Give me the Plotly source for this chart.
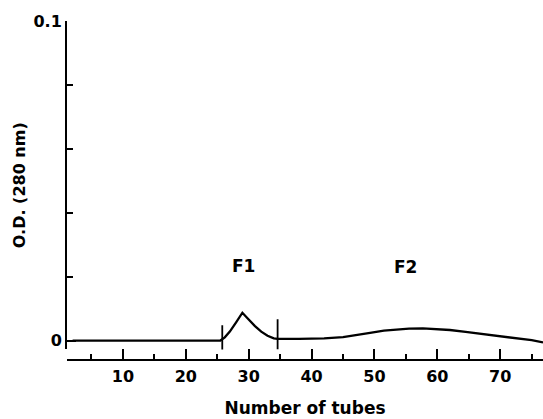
import plotly.graph_objects as go

# Elution profile (O.D. 280 nm vs tube number)
tubes = [2, 10, 20, 25.5, 26.2, 27.0, 28.0, 29.0, 30.0, 31.0, 32.0, 33.0, 34.0, 34.6,
         38, 42, 45, 47, 49.3, 51.5, 53.5, 55.5, 57.7, 60, 62, 64.5, 67.3, 70, 72.6, 75, 76.8]
od = [0.0, 0.0, 0.0, 0.0, 0.0010, 0.0028, 0.0057, 0.0087, 0.0066, 0.0045, 0.0028, 0.0015, 0.0007, 0.0005,
      0.0005, 0.0007, 0.0011, 0.0016, 0.0024, 0.0031, 0.0035, 0.0037, 0.0038, 0.0036, 0.0033, 0.0027, 0.0020, 0.0013, 0.0007, 0.0001, -0.0006]

# Fraction boundaries (tube numbers) and their mark extents
boundary_tubes = [25.8, 34.6]
boundary_low = [-0.0030, -0.0028]
boundary_high = [0.0048, 0.0067]

# Fraction labels
frac_names = ["F1", "F2"]
frac_x = [29.1, 55.0]
frac_y = [0.0232, 0.0231]

# Axis ticks
x_tickvals = [1.15, 10, 20, 30, 40, 50, 60, 70]
x_ticktext = ["", "10", "20", "30", "40", "50", "60", "70"]
x_minor = [5, 15, 25, 35, 45, 55, 65, 75]
y_tickvals = [0, 0.1]
y_ticktext = ["0", "0.1"]
y_minor = [0.02, 0.04, 0.06, 0.08]

FONT = "DejaVu Sans"

fig = go.Figure()
fig.add_trace(go.Scatter(x=tubes, y=od, mode="lines",
                         line=dict(color="black", width=2.3), showlegend=False))
for bx, lo, hi in zip(boundary_tubes, boundary_low, boundary_high):
    fig.add_trace(go.Scatter(x=[bx, bx], y=[lo, hi], mode="lines",
                             line=dict(color="black", width=1.8), showlegend=False))
for name, fx, fy in zip(frac_names, frac_x, frac_y):
    fig.add_annotation(x=fx, y=fy, text=name, showarrow=False,
                       font=dict(family=FONT, size=17, color="black", weight="bold"))

fig.update_layout(
    width=543, height=419,
    margin=dict(l=67, r=0, t=21, b=59),
    paper_bgcolor="white", plot_bgcolor="white",
    font=dict(family=FONT, color="black"),
    xaxis=dict(
        range=[1.11, 76.8], anchor="free", position=0, automargin=False,
        showgrid=False, zeroline=False,
        showline=True, linecolor="black", linewidth=2,
        tickmode="array", tickvals=x_tickvals, ticktext=x_ticktext,
        ticks="inside", ticklen=10, tickwidth=2, tickcolor="black",
        ticklabelstandoff=2,
        tickfont=dict(family=FONT, size=16, color="black", weight="bold"),
        minor=dict(tickmode="array", tickvals=x_minor, ticks="inside",
                   ticklen=5, tickwidth=2, tickcolor="black", showgrid=False),
        title=dict(text="Number of tubes",
                   font=dict(family=FONT, size=17, color="black", weight="bold"),
                   standoff=16),
    ),
    yaxis=dict(
        range=[-0.0028, 0.1], domain=[0.031, 1], automargin=False,
        showgrid=False, zeroline=False,
        showline=True, linecolor="black", linewidth=2,
        tickmode="array", tickvals=y_tickvals, ticktext=y_ticktext,
        ticks="inside", ticklen=9, tickwidth=2, tickcolor="black",
        tickfont=dict(family=FONT, size=16, color="black", weight="bold"),
        minor=dict(tickmode="array", tickvals=y_minor, ticks="inside",
                   ticklen=6, tickwidth=2, tickcolor="black", showgrid=False),
        title=dict(text="O.D. (280 nm)",
                   font=dict(family=FONT, size=16, color="black", weight="bold"),
                   standoff=4),
    ),
)

fig.write_html("out.html", config={"displayModeBar": False},
               post_script="document.body.style.margin='0';")
